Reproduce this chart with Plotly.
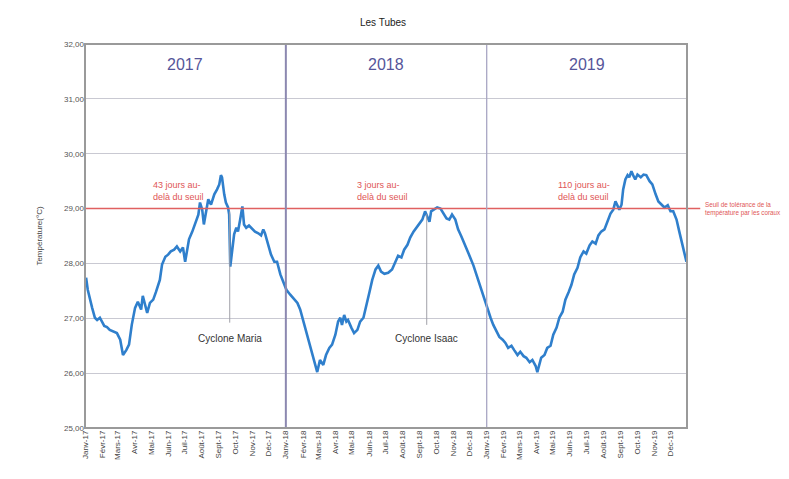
import pandas as pd
import plotly.graph_objects as go

# Sea temperature, Les Tubes station (days counted from 1 Jan 2017, °C)
days = [
    2, 5, 13, 18, 22, 27, 35, 40, 45, 53, 58, 64, 69, 75, 80, 85, 91, 96, 102, 105,
    109, 113, 118, 124, 129, 133, 136, 140, 146, 151, 156, 162, 167, 173, 178, 182,
    186, 189, 195, 200, 206, 209, 213, 216, 220, 224, 229, 235, 240, 244, 247, 249,
    253, 256, 260, 262, 264, 267, 271, 275, 278, 282, 286, 289, 293, 298, 304, 309,
    315, 320, 324, 327, 333, 338, 344, 349, 355, 360, 366,
    373, 380, 386, 391, 397, 402, 407, 413, 418, 422, 427, 433, 438, 444, 449, 455,
    460, 464, 467, 471, 475, 478, 484, 489, 495, 500, 506, 511, 517, 522, 528, 533,
    538, 544, 551, 558, 564, 569, 575, 580, 586, 591, 597, 602, 607, 613, 618, 622,
    626, 629, 635, 640, 646, 651, 657, 662, 667, 673, 678, 684, 689, 695, 700, 706,
    711, 717, 722, 728, 733, 737,
    742, 748, 753, 759, 764, 769, 775, 780, 786, 791, 797, 802, 808, 813, 819, 822,
    826, 829, 835, 840, 846, 851, 857, 862, 868, 873, 879, 884, 889, 895, 900, 906,
    911, 917, 922, 928, 933, 938, 944, 950, 955, 960, 964, 967, 971, 975, 978, 982,
    986, 989, 993, 996, 1000, 1004, 1010, 1015, 1020, 1026, 1031, 1037, 1042, 1048,
    1053, 1059, 1064, 1069, 1075, 1080, 1086, 1090, 1093,
]
temps = [
    27.74, 27.52, 27.19, 27.01, 26.97, 27.01, 26.86, 26.84, 26.79, 26.75, 26.73, 26.61,
    26.33, 26.42, 26.52, 26.88, 27.19, 27.30, 27.16, 27.41, 27.23, 27.10, 27.28, 27.34,
    27.48, 27.61, 27.70, 27.98, 28.12, 28.16, 28.22, 28.25, 28.31, 28.22, 28.29, 28.03,
    28.25, 28.44, 28.58, 28.71, 28.89, 29.11, 28.98, 28.71, 28.95, 29.17, 29.07, 29.26,
    29.35, 29.44, 29.61, 29.57, 29.26, 29.11, 29.02, 28.89, 27.94, 28.25, 28.53, 28.65,
    28.58, 28.80, 29.04, 28.71, 28.65, 28.69, 28.62, 28.58, 28.55, 28.51, 28.62, 28.55,
    28.34, 28.16, 28.03, 28.03, 27.80, 27.67, 27.52,
    27.43, 27.34, 27.28, 27.16, 26.94, 26.79, 26.61, 26.39, 26.20, 26.02, 26.24, 26.15,
    26.33, 26.46, 26.52, 26.70, 26.94, 27.01, 26.88, 27.06, 26.94, 26.97, 26.83, 26.73,
    26.79, 26.94, 27.01, 27.25, 27.48, 27.70, 27.89, 27.96, 27.85, 27.81, 27.83, 27.89,
    28.03, 28.14, 28.11, 28.25, 28.34, 28.47, 28.58, 28.65, 28.71, 28.80, 28.95, 28.84,
    28.76, 28.95, 28.98, 29.02, 29.00, 28.91, 28.82, 28.80, 28.89, 28.80, 28.62, 28.49,
    28.38, 28.25, 28.11, 27.96, 27.80, 27.61, 27.48, 27.30, 27.12, 27.01,
    26.88, 26.75, 26.66, 26.61, 26.55, 26.46, 26.50, 26.42, 26.33, 26.39, 26.31, 26.28,
    26.20, 26.24, 26.13, 26.02, 26.20, 26.28, 26.33, 26.46, 26.50, 26.70, 26.83, 27.01,
    27.12, 27.34, 27.48, 27.61, 27.80, 27.92, 28.11, 28.22, 28.18, 28.33, 28.40, 28.36,
    28.51, 28.58, 28.62, 28.76, 28.91, 28.98, 29.13, 29.07, 28.98, 29.07, 29.35, 29.53,
    29.61, 29.57, 29.68, 29.61, 29.53, 29.62, 29.57, 29.62, 29.61, 29.50, 29.44, 29.26,
    29.13, 29.07, 29.02, 29.06, 28.95, 28.95, 28.80, 28.58, 28.34, 28.16, 28.03,
]

month_names = ["Janv", "Févr", "Mars", "Avr", "Mai", "Juin",
               "Juil", "Août", "Sept", "Oct", "Nov", "Déc"]
years = ["2017", "2018", "2019"]
y_ticks = [25, 26, 27, 28, 29, 30, 31, 32]

threshold = 29.0
threshold_notes = ["43 jours au-<br>delà du seuil",
                   "3 jours au-<br>delà du seuil",
                   "110 jours au-<br>delà du seuil"]
note_dates = ["2017-06-20", "2018-06-25", "2019-06-27"]

cyclones = ["Cyclone Maria", "Cyclone Isaac"]
cyclone_dates = ["2017-09-21", "2018-09-14"]
cyclone_top = [28.95, 28.90]
cyclone_bottom = [26.92, 26.88]

start = pd.Timestamp("2017-01-01")
dates = [start + pd.Timedelta(days=d) for d in days]

tick_vals = [pd.Timestamp(f"{y}-{m:02d}-01") for y in years for m in range(1, 13)]
tick_text = [f"{month_names[m - 1]}-{y[2:]}" for y in years for m in range(1, 13)]

fig = go.Figure()
fig.add_trace(go.Scatter(
    x=dates, y=temps, mode="lines",
    line=dict(color="#2f7fcc", width=2.6),
    showlegend=False, hoverinfo="skip",
))

font = "Liberation Sans, Arial, sans-serif"

shapes = []
# threshold line running past the right edge of the frame
shapes.append(dict(type="line", xref="paper", yref="y", x0=0, x1=1.022,
                   y0=threshold, y1=threshold,
                   line=dict(color="#e06060", width=1.4)))
# year separators
shapes.append(dict(type="line", xref="x", yref="paper", x0="2018-01-01", x1="2018-01-01",
                   y0=0, y1=1, line=dict(color="#8c88b0", width=2)))
shapes.append(dict(type="line", xref="x", yref="paper", x0="2019-01-01", x1="2019-01-01",
                   y0=0, y1=1, line=dict(color="#a8a6c4", width=1.3)))
# cyclone markers
for d, top, bot in zip(cyclone_dates, cyclone_top, cyclone_bottom):
    shapes.append(dict(type="line", xref="x", yref="y", x0=d, x1=d, y0=bot, y1=top,
                       line=dict(color="#a0a0a8", width=1)))
# frame
shapes.append(dict(type="rect", xref="paper", yref="paper", x0=0, x1=1, y0=0, y1=1,
                   line=dict(color="#9a9a9a", width=2), layer="above"))

annotations = []
for y in years:
    annotations.append(dict(x=f"{y}-07-02", y=31.62, xref="x", yref="y", text=y,
                            showarrow=False,
                            font=dict(family=font, size=16, color="#55559a")))
for d, txt in zip(note_dates, threshold_notes):
    annotations.append(dict(x=d, y=29.08, xref="x", yref="y", text=txt,
                            showarrow=False, yanchor="bottom", align="left",
                            font=dict(family=font, size=9, color="#e05555")))
for d, txt in zip(cyclone_dates, cyclones):
    annotations.append(dict(x=d, y=26.64, xref="x", yref="y", text=txt,
                            showarrow=False,
                            font=dict(family=font, size=10, color="#333333")))
annotations.append(dict(x=1.026, y=threshold, xref="paper", yref="y",
                        text="Seuil de tolérance de la<br>température par les coraux",
                        showarrow=False, xanchor="left", align="left",
                        font=dict(family=font, size=6.3, color="#e05555")))

fig.update_layout(
    width=789, height=479,
    margin=dict(l=85, r=102, t=44, b=51),
    paper_bgcolor="white", plot_bgcolor="white",
    title=dict(text="Les Tubes", x=383 / 789, y=1 - 22 / 479, xanchor="center",
               yanchor="middle", font=dict(family=font, size=10, color="#222222")),
    xaxis=dict(
        type="date", range=["2017-01-01", "2019-12-31"],
        tickmode="array", tickvals=tick_vals, ticktext=tick_text,
        tickangle=-90, tickfont=dict(family=font, size=8, color="#444444"),
        showgrid=False, zeroline=False, ticks="", showline=False,
    ),
    yaxis=dict(
        range=[25, 32], tickmode="array", tickvals=y_ticks,
        ticktext=[f"{v},00" for v in y_ticks],
        tickfont=dict(family=font, size=8, color="#555555"),
        showgrid=True, gridcolor="#c9c9d2", gridwidth=1.2, zeroline=False,
        ticks="", showline=False,
        title=dict(text="Température(°C)", standoff=20,
                   font=dict(family=font, size=8, color="#444444")),
    ),
    shapes=shapes, annotations=annotations,
)

fig.write_html("out.html")
